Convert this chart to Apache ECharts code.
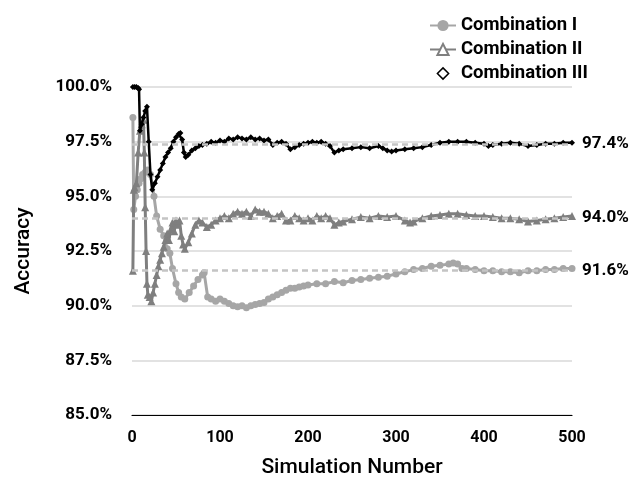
<!DOCTYPE html>
<html>
<head>
<meta charset="utf-8">
<script src="https://cdn.jsdelivr.net/npm/echarts@6/dist/echarts.min.js"></script>
<style>
  html, body { margin: 0; padding: 0; background: #fff; }
  #chart { width: 631px; height: 483px; }
</style>
</head>
<body>
<div id="chart"></div>
<script>
// Running accuracy per simulation for three feature combinations
const simsI = [1,2,4,6,8,10,12,15,18,21,25,28,32,36,40,43,46,50,53,56,60,65,70,75,80,82,86,90,95,100,105,110,115,120,125,130,135,140,145,150,155,160,165,170,175,180,185,190,195,200,210,220,230,240,250,260,270,280,290,300,310,320,330,340,350,360,365,370,375,380,390,400,410,420,430,440,450,460,470,480,490,500];
const accI = [98.6,94.4,95.0,95.3,95.6,95.8,96.0,96.1,96.2,96.0,95.0,94.1,93.5,93.2,92.6,92.4,91.7,91.0,90.6,90.4,90.3,90.6,90.9,91.2,91.4,91.5,90.4,90.3,90.2,90.3,90.2,90.1,90.0,89.95,90.0,89.9,90.0,90.05,90.1,90.15,90.3,90.4,90.5,90.6,90.7,90.8,90.8,90.85,90.9,90.95,91.0,91.0,91.1,91.05,91.15,91.2,91.25,91.3,91.35,91.45,91.55,91.65,91.7,91.8,91.85,91.9,91.95,91.9,91.7,91.7,91.65,91.6,91.6,91.55,91.55,91.5,91.6,91.6,91.65,91.65,91.7,91.7];

const simsII = [1,2,3,5,7,9,11,13,14,15,16,17,18,20,22,24,26,28,30,32,34,36,38,40,42,44,46,48,50,52,54,56,58,60,64,68,72,76,80,85,90,95,100,105,110,115,120,125,130,135,140,145,150,155,160,165,170,175,180,185,190,195,200,205,210,215,220,225,230,235,240,250,260,270,280,290,300,310,316,320,330,340,350,360,370,380,390,400,410,420,430,440,450,460,470,480,490,500];
const accII = [91.6,95.3,95.4,95.6,97.0,98.0,98.3,98.5,97.0,94.5,92.5,91.0,90.5,90.4,90.2,90.6,91.0,91.4,91.8,92.1,92.4,92.7,93.0,93.3,93.0,93.5,93.8,93.4,93.9,93.7,93.9,93.2,92.8,92.6,92.9,93.3,93.7,93.9,93.8,93.6,93.7,93.9,94.0,94.1,94.0,94.2,94.3,94.2,94.3,94.1,94.4,94.3,94.3,94.2,94.0,94.1,94.2,93.9,93.9,94.1,94.0,93.9,94.0,93.9,94.1,94.0,94.1,94.0,93.7,93.8,93.85,93.95,94.05,94.0,94.1,94.05,94.1,93.9,93.8,93.85,94.0,94.1,94.15,94.2,94.2,94.15,94.1,94.1,94.05,94.0,94.0,93.95,93.85,93.9,93.95,94.0,94.05,94.1];

const simsIII = [1,3,5,7,8,9,11,13,15,17,19,21,23,26,29,32,35,38,41,44,47,50,53,55,57,59,61,64,68,72,76,80,85,90,95,100,105,110,115,120,125,130,135,140,145,150,155,160,165,170,175,180,185,190,195,200,205,210,215,220,225,230,235,240,250,260,270,280,285,290,295,300,310,320,330,340,350,360,370,380,390,400,405,410,420,430,440,450,460,470,480,490,500];
const accIII = [100,100,100,99.95,99.9,98.0,98.3,98.6,98.9,99.1,97.5,96.0,95.3,95.6,95.9,96.2,96.5,96.8,97.0,97.2,97.5,97.7,97.85,97.9,97.6,97.0,96.8,96.9,97.1,97.2,97.3,97.35,97.4,97.5,97.45,97.55,97.5,97.65,97.6,97.7,97.65,97.6,97.7,97.6,97.65,97.55,97.6,97.35,97.45,97.5,97.4,97.15,97.25,97.35,97.4,97.45,97.5,97.45,97.5,97.4,97.3,97.0,97.1,97.15,97.2,97.25,97.2,97.3,97.2,97.1,97.05,97.1,97.15,97.2,97.25,97.35,97.45,97.5,97.5,97.5,97.45,97.4,97.3,97.35,97.4,97.45,97.4,97.3,97.35,97.4,97.4,97.45,97.45];

// Overall mean accuracy of each combination
const meanLevels = [97.4, 94.0, 91.6];

const yTicks = { min: 85, max: 100, step: 2.5 };
const xTicks = { min: 0, max: 500, step: 100 };

const font = 'Roboto';
const pairs = (xs, ys) => xs.map((x, i) => [x, ys[i]]);

const chart = echarts.init(document.getElementById('chart'));

chart.setOption({
  backgroundColor: '#ffffff',
  animation: false,
  grid: { left: 132, right: 59, top: 87, bottom: 67 },
  legend: {
    orient: 'vertical',
    left: 424,
    top: 11,
    itemWidth: 26,
    itemHeight: 14,
    itemGap: 5,
    textStyle: { fontFamily: font, fontWeight: 'bold', fontSize: 18.5, color: '#000' },
    data: [
      { name: 'Combination I' },
      { name: 'Combination II', itemStyle: { color: '#ffffff', borderColor: '#7f7f7f', borderWidth: 2 } },
      { name: 'Combination III', itemStyle: { color: '#ffffff', borderColor: '#000000', borderWidth: 1.5 }, lineStyle: { opacity: 0 } }
    ]
  },
  xAxis: {
    type: 'value',
    min: xTicks.min,
    max: xTicks.max,
    interval: xTicks.step,
    name: 'Simulation Number',
    nameLocation: 'middle',
    nameGap: 42,
    nameTextStyle: { fontFamily: font, fontWeight: 500, fontSize: 21, color: '#000' },
    axisLine: { show: true, onZero: false, lineStyle: { color: '#000', width: 1.2 } },
    axisTick: { show: false },
    splitLine: { show: false },
    axisLabel: { fontFamily: font, fontWeight: 'bold', fontSize: 16, color: '#000', margin: 15 }
  },
  yAxis: {
    type: 'value',
    min: yTicks.min,
    max: yTicks.max,
    interval: yTicks.step,
    name: 'Accuracy',
    nameLocation: 'middle',
    nameGap: 98,
    nameTextStyle: { fontFamily: font, fontWeight: 500, fontSize: 21, color: '#000' },
    axisLine: { show: false },
    axisTick: { show: false },
    splitLine: { show: true, lineStyle: { color: '#d9d9d9', width: 1.5 } },
    axisLabel: {
      fontFamily: font, fontWeight: 'bold', fontSize: 17, color: '#000', margin: 20,
      formatter: v => v.toFixed(1) + '%'
    }
  },
  series: [
    {
      name: 'Combination I',
      type: 'line',
      data: pairs(simsI, accI),
      symbol: 'circle',
      symbolSize: 7,
      showAllSymbol: true,
      color: '#a6a6a6',
      lineStyle: { width: 3, color: '#a6a6a6' },
      itemStyle: { color: '#a6a6a6' },
      z: 2
    },
    {
      name: 'Combination II',
      type: 'line',
      data: pairs(simsII, accII),
      symbol: 'triangle',
      symbolSize: 8,
      showAllSymbol: true,
      color: '#7f7f7f',
      lineStyle: { width: 3, color: '#7f7f7f' },
      itemStyle: { color: '#7f7f7f' },
      z: 3
    },
    {
      name: 'Combination III',
      type: 'line',
      data: pairs(simsIII, accIII),
      symbol: 'diamond',
      symbolSize: 6,
      showAllSymbol: true,
      color: '#000000',
      lineStyle: { width: 2.5, color: '#000000' },
      itemStyle: { color: '#000000' },
      z: 4
    },
    {
      name: 'mean',
      type: 'line',
      data: [],
      z: 6,
      markLine: {
        silent: true,
        symbol: 'none',
        lineStyle: { type: [6, 4], color: '#c4c4c4', width: 2.5 },
        label: {
          show: true,
          position: 'end',
          distance: 10,
          fontFamily: font,
          fontWeight: 'bold',
          fontSize: 17,
          color: '#000',
          formatter: p => p.value.toFixed(1) + '%'
        },
        data: meanLevels.map(v => ({ yAxis: v }))
      }
    }
  ]
});
</script>
</body>
</html>
